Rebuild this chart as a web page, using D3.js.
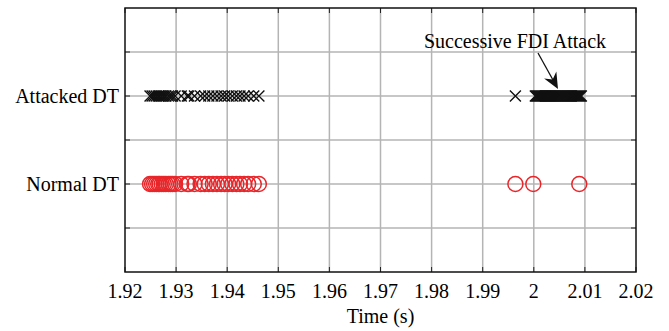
<!DOCTYPE html>
<html>
<head>
<meta charset="utf-8">
<script src="https://cdn.jsdelivr.net/npm/d3@7"></script>
<style>
  body { margin: 0; background: #fff; }
</style>
</head>
<body>
<svg id="chart" width="669" height="331"></svg>
<script>
// timestamps (s) before the attack, same for both twins
var preTimes = [1.9249, 1.9253, 1.9257, 1.9261, 1.9265, 1.9268, 1.9272, 1.9276, 1.9280, 1.9285,
                1.9289, 1.9293, 1.9298, 1.9310, 1.9322, 1.9325, 1.9336, 1.9348, 1.9356, 1.9364,
                1.9372, 1.9380, 1.9388, 1.9395, 1.9402, 1.9410, 1.9418, 1.9425, 1.9433, 1.9441,
                1.9452, 1.9462];
// normal DT after 1.99
var normalLate = [1.9964, 1.9999, 2.0089];
// attacked DT after 1.99 (successive FDI messages)
var attackLate = [1.9964,
  2.0003, 2.0005, 2.0007, 2.0009, 2.0011, 2.0013, 2.0015, 2.0017, 2.0019, 2.0021,
  2.0023, 2.0025, 2.0027, 2.0029, 2.0031, 2.0033, 2.0035, 2.0037, 2.0039, 2.0041,
  2.0043, 2.0045, 2.0047, 2.0049, 2.0051, 2.0053, 2.0055, 2.0057, 2.0059, 2.0061,
  2.0063, 2.0065, 2.0067, 2.0069, 2.0071, 2.0073, 2.0075, 2.0077, 2.0079, 2.0081,
  2.0083, 2.0085, 2.0087, 2.0089, 2.0091, 2.0093];
var xTicks = [1.92, 1.93, 1.94, 1.95, 1.96, 1.97, 1.98, 1.99, 2, 2.01, 2.02];
var yGrid = [1, 2, 3, 4, 5];
var yLabels = [{v: 4, name: "Attacked DT"}, {v: 2, name: "Normal DT"}];

var FONT = "'Liberation Serif', 'Times New Roman', Times, 'DejaVu Serif', serif";
var svg = d3.select("#chart");
var mLeft = 125, mRight = 636, mTop = 8, mBottom = 272;

var x = d3.scaleLinear().domain([1.92, 2.02]).range([mLeft, mRight]);
var y = d3.scaleLinear().domain([0, 6]).range([mBottom, mTop]);

// grid
svg.append("g").selectAll("line").data(xTicks.slice(1, -1)).enter()
    .append("line")
    .attr("x1", d => x(d)).attr("x2", d => x(d))
    .attr("y1", mTop).attr("y2", mBottom)
    .attr("stroke", "#b4b4b4").attr("stroke-width", 1.5);
svg.append("g").selectAll("line").data(yGrid).enter()
    .append("line")
    .attr("x1", mLeft).attr("x2", mRight)
    .attr("y1", d => y(d)).attr("y2", d => y(d))
    .attr("stroke", "#b4b4b4").attr("stroke-width", 1.5);

// inward ticks on all sides
var tk = 5;
var ticks = svg.append("g").attr("stroke", "#222").attr("stroke-width", 1);
xTicks.forEach(function(d){
    ticks.append("line").attr("x1", x(d)).attr("x2", x(d)).attr("y1", mBottom).attr("y2", mBottom - tk);
    ticks.append("line").attr("x1", x(d)).attr("x2", x(d)).attr("y1", mTop).attr("y2", mTop + tk);
});
yGrid.forEach(function(d){
    ticks.append("line").attr("x1", mLeft).attr("x2", mLeft + tk).attr("y1", y(d)).attr("y2", y(d));
    ticks.append("line").attr("x1", mRight).attr("x2", mRight - tk).attr("y1", y(d)).attr("y2", y(d));
});

// frame
svg.append("rect")
    .attr("x", mLeft).attr("y", mTop)
    .attr("width", mRight - mLeft).attr("height", mBottom - mTop)
    .attr("fill", "none").attr("stroke", "#111").attr("stroke-width", 1.5);

// tick labels
svg.append("g").selectAll("text").data(xTicks).enter()
    .append("text")
    .attr("x", d => x(d)).attr("y", 298)
    .attr("text-anchor", "middle")
    .style("font-family", FONT).style("font-size", "20px")
    .text(d => d3.format("")(d));

svg.selectAll(".ylab").data(yLabels).enter()
    .append("text")
    .attr("class", "ylab")
    .attr("x", mLeft - 6).attr("y", d => y(d.v) + 7)
    .attr("text-anchor", "end")
    .style("font-family", FONT).style("font-size", "20px")
    .text(d => d.name);

svg.append("text")
    .attr("x", (mLeft + mRight) / 2).attr("y", 323)
    .attr("text-anchor", "middle")
    .style("font-family", FONT).style("font-size", "20px")
    .text("Time (s)");

// normal DT circles
var normalAll = preTimes.concat(normalLate);
svg.append("g").selectAll("circle").data(normalAll).enter()
    .append("circle")
    .attr("cx", d => x(d)).attr("cy", y(2)).attr("r", 7.5)
    .attr("fill", "none").attr("stroke", "#e8262a").attr("stroke-width", 1.5);

// attacked DT crosses
var attackAll = preTimes.concat(attackLate);
var s = 5.5;
svg.append("g").selectAll("path").data(attackAll).enter()
    .append("path")
    .attr("d", d => {
        var cx = x(d), cy = y(4);
        return `M${cx - s},${cy - s}L${cx + s},${cy + s}M${cx - s},${cy + s}L${cx + s},${cy - s}`;
    })
    .attr("stroke", "#111").attr("stroke-width", 1.4).attr("fill", "none");

// annotation
svg.append("text")
    .attr("x", 515).attr("y", 48)
    .attr("text-anchor", "middle")
    .style("font-family", FONT).style("font-size", "20px")
    .text("Successive FDI Attack");

var ax1 = 538, ay1 = 53, ax2 = 558, ay2 = 89;
var ang = Math.atan2(ay2 - ay1, ax2 - ax1);
svg.append("line")
    .attr("x1", ax1).attr("y1", ay1)
    .attr("x2", ax2 - 8 * Math.cos(ang)).attr("y2", ay2 - 8 * Math.sin(ang))
    .attr("stroke", "#111").attr("stroke-width", 1.3);
function pt(l, w) {
    return [ax2 - l * Math.cos(ang) - w * Math.sin(ang), ay2 - l * Math.sin(ang) + w * Math.cos(ang)];
}
var head = [pt(0, 0), pt(16, 7), pt(11, 0), pt(16, -7)];
svg.append("path")
    .attr("d", "M" + head.map(p => p.join(",")).join("L") + "Z")
    .attr("fill", "#111");
</script>
</body>
</html>
